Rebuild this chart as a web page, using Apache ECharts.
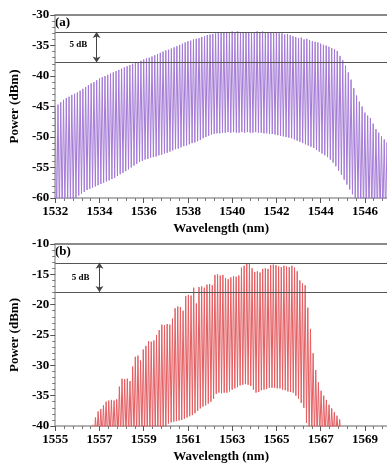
<!DOCTYPE html>
<html>
<head>
<meta charset="utf-8">
<script src="https://cdn.jsdelivr.net/npm/echarts@6/dist/echarts.min.js"></script>
<style>
  html, body { margin: 0; padding: 0; background: #fff; }
  #chart { width: 387px; height: 464px; }
</style>
</head>
<body>
<div id="chart"></div>
<script>
// (a) comb: first line, spacing (nm), peak and dip level of each line (dBm)
const startA = 1532.0;
const stepA = 0.125;
const peakA = [
  -45.1, -44.7, -44.3, -43.9, -43.6, -43.4, -43.1, -42.9, -42.7, -42.4,
  -42.1, -41.8, -41.5, -41.2, -41.0, -40.7, -40.4, -40.2, -40.0, -39.8,
  -39.6, -39.4, -39.2, -39.0, -38.8, -38.6, -38.4, -38.2, -38.0, -37.8,
  -37.7, -37.5, -37.3, -37.1, -37.0, -36.8, -36.6, -36.4, -36.2, -36.0,
  -35.8, -35.7, -35.5, -35.3, -35.1, -34.9, -34.7, -34.5, -34.3, -34.2,
  -34.0, -33.9, -33.8, -33.6, -33.5, -33.3, -33.2, -33.1, -33.0, -32.9,
  -32.9, -32.8, -32.8, -32.8, -32.7, -32.8, -32.7, -32.8, -32.9, -32.8,
  -32.9, -32.8, -32.9, -32.7, -32.8, -32.7, -32.9, -32.8, -32.9, -32.8,
  -32.9, -33.0, -33.0, -33.2, -33.1, -33.3, -33.5, -33.6, -33.8, -33.7,
  -34.0, -33.9, -34.1, -34.3, -34.4, -34.5, -34.7, -34.9, -35.0, -35.2,
  -35.4, -35.6, -35.9, -36.7, -37.4, -38.3, -39.4, -40.6, -42.0, -43.2,
  -44.2, -45.0, -46.0, -46.5, -46.9, -47.8, -48.7, -49.3, -49.9, -50.4,
  -50.9
];
const dipA = [
  -63.0, -62.5, -62.0, -61.5, -61.0, -60.7, -60.3, -60.0, -59.6, -59.3,
  -59.0, -58.7, -58.5, -58.3, -58.1, -57.9, -57.7, -57.5, -57.3, -57.1,
  -56.9, -56.7, -56.4, -56.1, -55.9, -55.6, -55.3, -55.0, -54.7, -54.4,
  -54.1, -53.9, -53.7, -53.6, -53.4, -53.3, -53.2, -53.0, -52.9, -52.7,
  -52.6, -52.4, -52.2, -52.0, -51.9, -51.7, -51.5, -51.4, -51.2, -51.0,
  -50.9, -50.7, -50.5, -50.2, -50.0, -49.8, -49.6, -49.5, -49.4, -49.4,
  -49.3, -49.3, -49.2, -49.3, -49.2, -49.3, -49.3, -49.2, -49.3, -49.2,
  -49.3, -49.3, -49.2, -49.3, -49.3, -49.4, -49.4, -49.5, -49.5, -49.6,
  -49.7, -49.8, -49.9, -50.0, -50.1, -50.2, -50.4, -50.6, -50.8, -51.0,
  -51.2, -51.4, -51.6, -51.8, -52.1, -52.4, -52.7, -53.0, -53.3, -53.7,
  -54.2, -54.8, -55.5, -56.2, -57.0, -57.8, -58.6, -59.4, -60.3, -61.0,
  -62.0, -63.0, -63.0, -63.0, -63.0, -63.0, -63.0, -63.0, -63.0, -63.0,
  -63.0
];

// (b) comb
const startB = 1556.7;
const stepB = 0.12;
const peakB = [
  -39.8, -38.6, -37.6, -37.2, -36.6, -36.0, -35.8, -35.7, -35.8, -35.6,
  -33.5, -32.2, -32.3, -32.2, -32.6, -30.2, -28.6, -28.4, -29.2, -27.4,
  -26.8, -26.0, -26.1, -25.9, -25.0, -24.2, -23.3, -23.4, -23.2, -23.3,
  -22.3, -20.6, -20.3, -20.4, -21.0, -18.6, -18.4, -18.5, -17.2, -19.8,
  -17.1, -17.0, -17.2, -16.7, -16.6, -16.8, -15.1, -15.0, -15.2, -15.1,
  -15.6, -15.8, -15.5, -15.3, -15.4, -15.2, -13.9, -13.6, -13.2, -13.3,
  -14.0, -14.6, -14.5, -14.7, -14.1, -14.0, -14.1, -13.5, -13.4, -13.5,
  -13.7, -13.8, -13.6, -13.7, -13.8, -13.6, -13.9, -14.5, -16.0, -16.5,
  -16.8, -20.5, -24.0, -28.0, -30.8, -32.8, -34.2, -35.0, -35.7, -36.5,
  -37.1, -37.7, -38.3, -38.9
];
const dipB = [
  -42.0, -42.0, -42.0, -42.0, -42.0, -42.0, -42.0, -42.0, -42.0, -42.0,
  -42.0, -42.0, -42.0, -42.0, -42.0, -42.0, -42.0, -42.0, -42.0, -42.0,
  -42.0, -42.0, -42.0, -42.0, -42.0, -42.0, -42.0, -42.0, -39.6, -39.4,
  -39.3, -39.2, -39.1, -39.0, -38.8, -38.6, -38.4, -38.2, -37.9, -37.5,
  -37.1, -36.8, -36.6, -36.3, -36.0, -35.5, -34.7, -34.5, -34.6, -34.5,
  -34.5, -34.3, -34.0, -33.8, -33.6, -33.3, -33.2, -33.1, -33.2, -33.4,
  -34.0, -34.5, -34.4, -34.1, -34.0, -33.9, -33.7, -33.7, -33.7, -33.8,
  -33.8, -34.0, -34.1, -34.3, -34.4, -34.5, -35.0, -35.5, -36.2, -37.0,
  -39.5, -42.0, -42.0, -42.0, -42.0, -42.0, -42.0, -42.0, -42.0, -42.0,
  -42.0, -42.0, -42.0, -42.0
];

// 5 dB reference levels and arrow position
const refA = [-32.8, -37.8];
const refB = [-13.1, -17.9];
const arrowXA = 1533.87;
const arrowXB = 1557.0;
const noteA = [1533.05, -34.9];
const noteB = [1556.15, -15.5];

const FONT = 'Liberation Serif';

// peak / dip pairs -> zigzag line
function buildComb(start, step, peaks, dips) {
  const out = [];
  peaks.forEach((p, i) => {
    const x = start + step * i;
    out.push([x, p], [x + step / 2, dips[i]]);
  });
  return out;
}

function bottomAxis(gridIndex, min, max) {
  return {
    type: 'value', gridIndex, position: 'bottom', min, max, interval: 2,
    name: 'Wavelength (nm)', nameLocation: 'middle', nameGap: 24,
    nameTextStyle: { fontFamily: FONT, fontWeight: 'bold', fontSize: 13, color: '#000' },
    axisLine: { lineStyle: { color: '#9a9a9a', width: 1.5 } },
    axisTick: { length: 5, lineStyle: { color: '#555' } },
    minorTick: { show: true, splitNumber: 5, length: 3, lineStyle: { color: '#777' } },
    axisLabel: {
      fontFamily: FONT, fontWeight: 'bold', fontSize: 13, color: '#000', margin: 7, showMaxLabel: false,
      formatter: (v) => String(v)
    },
    splitLine: { show: false }
  };
}

function topAxis(gridIndex, min, max) {
  return {
    type: 'value', gridIndex, position: 'top', min, max,
    axisLine: { lineStyle: { color: '#8a8a8a', width: 2 } },
    axisTick: { show: false }, axisLabel: { show: false }, splitLine: { show: false }
  };
}

function leftAxis(gridIndex, min, max) {
  return {
    type: 'value', gridIndex, min, max, interval: 5,
    name: 'Power (dBm)', nameLocation: 'middle', nameGap: 31, nameRotate: 90,
    nameTextStyle: { fontFamily: FONT, fontWeight: 'bold', fontSize: 13, color: '#000' },
    axisLine: { show: true, lineStyle: { color: '#a5a5a5', width: 1.5 } },
    axisTick: { show: true, length: 5, lineStyle: { color: '#555' } },
    minorTick: { show: true, splitNumber: 5, length: 3, lineStyle: { color: '#777' } },
    axisLabel: { fontFamily: FONT, fontWeight: 'bold', fontSize: 13, color: '#000', margin: 6 },
    splitLine: { show: false }
  };
}

function markLines(refs, arrowX) {
  return {
    silent: true,
    symbol: ['none', 'none'],
    symbolSize: [6, 6],
    label: { show: false },
    lineStyle: { color: '#555', width: 1, type: 'solid' },
    data: [
      { yAxis: refs[0] },
      { yAxis: refs[1] },
      [
        { coord: [arrowX, refs[0]], symbol: 'arrow', lineStyle: { color: '#444', width: 1 } },
        { coord: [arrowX, refs[1]], symbol: 'arrow' }
      ]
    ]
  };
}

function notePoint(coord) {
  return {
    silent: true,
    symbol: 'circle', symbolSize: 0,
    label: { show: true, position: 'inside', formatter: '5 dB', fontFamily: FONT, fontWeight: 'bold', fontSize: 9, color: '#000' },
    data: [{ coord }]
  };
}

const chart = echarts.init(document.getElementById('chart'));
chart.setOption({
  animation: false,
  backgroundColor: '#fff',
  grid: [
    { left: 53, top: 15, width: 335, height: 183 },
    { left: 53, top: 244, width: 335, height: 183 }
  ],
  xAxis: [
    bottomAxis(0, 1532, 1547),
    topAxis(0, 1532, 1547),
    bottomAxis(1, 1555, 1570),
    topAxis(1, 1555, 1570)
  ],
  yAxis: [
    leftAxis(0, -60, -30),
    leftAxis(1, -40, -10)
  ],
  graphic: [
    { type: 'text', left: 55, top: 16, style: { text: '(a)', font: 'bold 13px "Liberation Serif"', fill: '#000' } },
    { type: 'text', left: 55, top: 245, style: { text: '(b)', font: 'bold 13px "Liberation Serif"', fill: '#000' } }
  ],
  series: [
    {
      type: 'line', xAxisIndex: 0, yAxisIndex: 0,
      data: buildComb(startA, stepA, peakA, dipA),
      showSymbol: false, clip: true,
      lineStyle: { color: '#a47ad6', width: 1 },
      markLine: markLines(refA, arrowXA),
      markPoint: notePoint(noteA)
    },
    {
      type: 'line', xAxisIndex: 2, yAxisIndex: 1,
      data: buildComb(startB, stepB, peakB, dipB),
      showSymbol: false, clip: true,
      lineStyle: { color: '#e35e62', width: 1 },
      markLine: markLines(refB, arrowXB),
      markPoint: notePoint(noteB)
    }
  ]
});
</script>
</body>
</html>
